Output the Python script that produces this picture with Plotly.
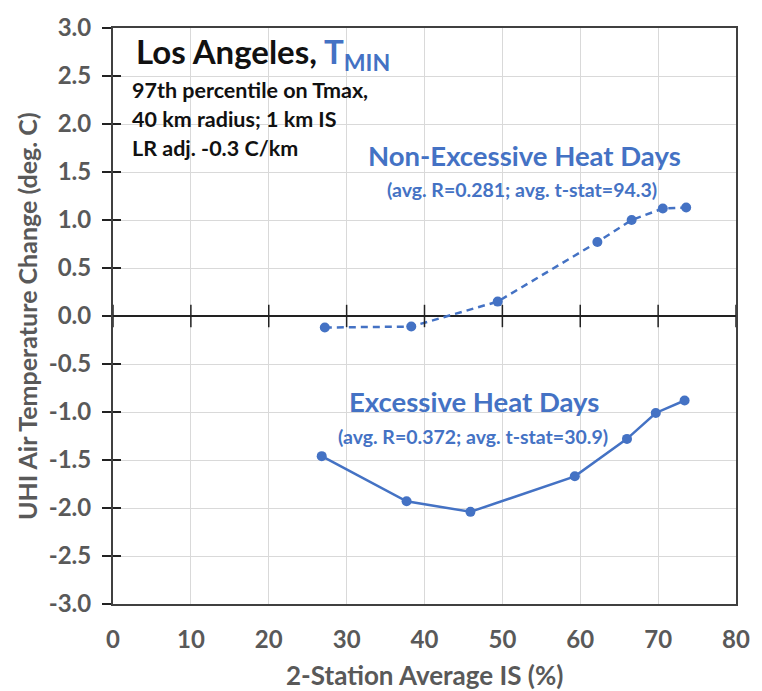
import plotly.graph_objects as go

# ---------------- data ----------------
non_x = [27.2, 38.3, 49.4, 62.2, 66.6, 70.6, 73.6]
non_y = [-0.12, -0.11, 0.15, 0.77, 1.00, 1.12, 1.13]

exc_x = [26.8, 37.7, 45.9, 59.3, 66.0, 69.7, 73.4]
exc_y = [-1.46, -1.93, -2.04, -1.67, -1.28, -1.01, -0.88]

x_ticks = [0, 10, 20, 30, 40, 50, 60, 70, 80]
y_ticks = [3.0, 2.5, 2.0, 1.5, 1.0, 0.5, 0.0, -0.5, -1.0, -1.5, -2.0, -2.5, -3.0]
y_ticktext = [f"{v:.1f}" for v in y_ticks]

BLUE = "#4472C4"
GRAY = "#595959"
FONT = "Lato"

fig = go.Figure()

fig.add_trace(go.Scatter(
    x=non_x, y=non_y, mode="lines+markers",
    line=dict(color=BLUE, width=2.5, dash="7px,5px"),
    marker=dict(color=BLUE, size=10),
    showlegend=False, hoverinfo="skip"))

fig.add_trace(go.Scatter(
    x=exc_x, y=exc_y, mode="lines+markers",
    line=dict(color=BLUE, width=2.5),
    marker=dict(color=BLUE, size=10),
    showlegend=False, hoverinfo="skip"))

# crossing tick marks on the zero line
fig.add_trace(go.Scatter(
    x=x_ticks, y=[0] * len(x_ticks), mode="markers",
    marker=dict(symbol="line-ns", size=16, line=dict(color="#222222", width=1.5)),
    showlegend=False, hoverinfo="skip", cliponaxis=False))

# invisible trace for secondary y axis (inside ticks)
fig.add_trace(go.Scatter(x=[0], y=[0], yaxis="y2", mode="markers",
                         marker=dict(opacity=0), showlegend=False, hoverinfo="skip"))

fig.update_layout(
    width=762, height=691,
    margin=dict(l=113, r=16, t=19, b=87),
    paper_bgcolor="white", plot_bgcolor="white",
    font=dict(family=FONT, color=GRAY),
    xaxis=dict(
        range=[0, 80], tickvals=x_ticks, ticktext=[str(v) for v in x_ticks],
        showgrid=True, gridcolor="#d9d9d9", gridwidth=1,
        showline=True, linecolor="#404040", linewidth=2, mirror=True,
        ticks="", zeroline=False,
        tickfont=dict(family=FONT, size=24, color=GRAY, weight="bold"),
        ticklabelstandoff=13,
    ),
    yaxis=dict(
        range=[-3, 3], tickvals=y_ticks, ticktext=y_ticktext,
        showgrid=True, gridcolor="#d9d9d9", gridwidth=1,
        showline=True, linecolor="#404040", linewidth=2, mirror=True,
        ticks="outside", ticklen=9, tickwidth=1.5, tickcolor="#222222",
        zeroline=True, zerolinecolor="#222222", zerolinewidth=1.5,
        tickfont=dict(family=FONT, size=24, color=GRAY, weight="bold"),
        ticklabelstandoff=6,
    ),
    yaxis2=dict(
        range=[-3, 3], tickvals=y_ticks, overlaying="y", side="left",
        showticklabels=False, showgrid=False, zeroline=False, showline=False,
        ticks="inside", ticklen=8, tickwidth=1.5, tickcolor="#222222",
    ),
)

ann = []
# axis titles
ann.append(dict(text="UHI Air Temperature Change (deg. C)", x=0, y=0.5, xref="paper", yref="paper",
                xanchor="center", yanchor="middle", xshift=-86, textangle=-90, showarrow=False,
                font=dict(family=FONT, size=25, color=GRAY, weight="bold")))
ann.append(dict(text="2-Station Average IS (%)", x=0.5, y=0, xref="paper", yref="paper",
                xanchor="center", yanchor="middle", yshift=-71, showarrow=False,
                font=dict(family=FONT, size=26, color=GRAY, weight="bold")))
# title block
ann.append(dict(text="Los Angeles, <span style='color:#4472C4'>T<sub>MIN</sub></span>",
                x=0, y=1, xref="paper", yref="paper", xanchor="left", yanchor="middle",
                xshift=21, yshift=-25, showarrow=False,
                font=dict(family=FONT, size=33, color="#111111", weight="bold")))
for i, line in enumerate(["97th percentile on Tmax,", "40 km radius; 1 km IS", "LR adj. -0.3 C/km"]):
    ann.append(dict(text=line, x=0, y=1, xref="paper", yref="paper", xanchor="left", yanchor="middle",
                    xshift=17, yshift=-62 - 29 * i, showarrow=False,
                    font=dict(family=FONT, size=21.5, color="#111111", weight="bold")))
# series labels
ann.append(dict(text="Non-Excessive Heat Days", x=52.9, y=1.67, xref="x", yref="y",
                xanchor="center", yanchor="middle", showarrow=False,
                font=dict(family=FONT, size=27.5, color=BLUE, weight="bold")))
ann.append(dict(text="(avg. R=0.281; avg. t-stat=94.3)", x=52.5, y=1.32, xref="x", yref="y",
                xanchor="center", yanchor="middle", showarrow=False,
                font=dict(family=FONT, size=19.5, color=BLUE, weight="bold")))
ann.append(dict(text="Excessive Heat Days", x=46.4, y=-0.89, xref="x", yref="y",
                xanchor="center", yanchor="middle", showarrow=False,
                font=dict(family=FONT, size=27.5, color=BLUE, weight="bold")))
ann.append(dict(text="(avg. R=0.372; avg. t-stat=30.9)", x=46.2, y=-1.26, xref="x", yref="y",
                xanchor="center", yanchor="middle", showarrow=False,
                font=dict(family=FONT, size=19.5, color=BLUE, weight="bold")))
fig.update_layout(annotations=ann)

fig.write_html("out.html")
